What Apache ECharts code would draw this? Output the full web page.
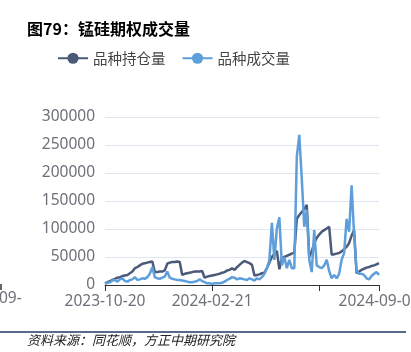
<!DOCTYPE html>
<html><head><meta charset="utf-8">
<script src="https://cdn.jsdelivr.net/npm/echarts@6/dist/echarts.min.js"></script>
<style>html,body{margin:0;padding:0;background:#fff}#c{width:411px;height:352px}</style>
</head><body><div id="c"></div>
<script>
const titleText = '图79：锰硅期权成交量';
const sourceText = '资料来源：同花顺，方正中期研究院';
const seriesNames = ['品种持仓量', '品种成交量'];
const yTicks = [0, 50000, 100000, 150000, 200000, 250000, 300000];
const categories = [
'2023-10-20','2023-10-23','2023-10-26','2023-10-29','2023-11-01','2023-11-04','2023-11-07','2023-11-10','2023-11-12','2023-11-15',
'2023-11-18','2023-11-21','2023-11-24','2023-11-27','2023-11-30','2023-12-03','2023-12-05','2023-12-08','2023-12-11','2023-12-14',
'2023-12-17','2023-12-20','2023-12-23','2023-12-26','2023-12-28','2023-12-31','2024-01-03','2024-01-06','2024-01-09','2024-01-12',
'2024-01-15','2024-01-18','2024-01-20','2024-01-23','2024-01-26','2024-01-29','2024-02-01','2024-02-04','2024-02-07','2024-02-10',
'2024-02-12','2024-02-15','2024-02-18','2024-02-21','2024-02-24','2024-02-27','2024-03-01','2024-03-04','2024-03-07','2024-03-10',
'2024-03-13','2024-03-16','2024-03-19','2024-03-22','2024-03-25','2024-03-28','2024-03-31','2024-04-03','2024-04-06','2024-04-09',
'2024-04-11','2024-04-14','2024-04-17','2024-04-20','2024-04-23','2024-04-26','2024-04-29','2024-05-02','2024-05-05','2024-05-08',
'2024-05-11','2024-05-14','2024-05-17','2024-05-20','2024-05-23','2024-05-26','2024-05-29','2024-06-01','2024-06-04','2024-06-07',
'2024-06-09','2024-06-12','2024-06-15','2024-06-18','2024-06-21','2024-06-24','2024-06-27','2024-06-30','2024-07-03','2024-07-06',
'2024-07-09','2024-07-12','2024-07-15','2024-07-18','2024-07-21','2024-07-24','2024-07-27','2024-07-30','2024-08-02','2024-08-05',
'2024-08-07','2024-08-10','2024-08-13','2024-08-16','2024-08-19','2024-08-22','2024-08-25','2024-08-28','2024-08-31','2024-09-03',
'2024-09-06'];
const openInterest = [
3000,5000,7000,9000,11000,13000,14000,16000,17000,18000,
21000,24000,30000,32000,35000,38000,39000,40000,41000,42000,
23000,23000,24000,24000,26000,38000,40000,41000,41000,42000,
41000,18000,20000,21000,22000,23000,24000,24000,24000,25000,
13000,15000,16000,17000,18000,19000,20000,22000,23000,26000,
27000,30000,27000,32000,36000,40000,43000,41000,39000,36000,
17000,18000,19000,21000,22000,30000,40000,50000,56000,61000,
28000,48000,50000,52000,54000,56000,58000,118000,125000,130000,
136000,143000,50000,60000,75000,84000,90000,95000,98000,101000,
104000,54000,55000,56000,57000,60000,64000,68000,75000,88000,
98000,21000,24000,27000,29000,31000,32000,34000,35000,37000,
39000];
const volume = [
2000,4000,5000,8000,9000,6000,10000,12000,7000,6000,
9000,10000,14000,9000,10000,12000,11000,14000,20000,32000,
14000,12000,11000,13000,15000,24000,13000,11000,10000,9000,
9000,8000,7000,6000,5000,5000,6000,7000,10000,7000,
5000,3000,3000,2000,3000,3000,3000,4000,6000,9000,
11000,14000,13000,10000,12000,11000,10000,9000,12000,10000,
8000,12000,10000,14000,20000,30000,45000,111000,45000,101000,
121000,35000,50000,30000,45000,30000,30000,229000,268000,190000,
104000,134000,45000,23000,98000,35000,32000,30000,35000,45000,
25000,12000,18000,12000,20000,45000,57000,118000,95000,178000,
90000,25000,20000,20000,18000,12000,10000,16000,20000,23000,
18000];
const tickStep = 43;
const colors = ['#4a5a78', '#5e9fdb'];
const lastIdx = categories.length - 1;

const chart = echarts.init(document.getElementById('c'));
chart.setOption({
  animation: false,
  color: colors,
  legend: {
    left: 52, top: 46, itemWidth: 30, itemHeight: 14, itemGap: 16,
    textStyle: { fontSize: 14.5, color: '#444', fontFamily: 'Noto Sans CJK SC' },
    data: seriesNames
  },
  grid: { left: 105, right: 32, top: 117, bottom: 67, containLabel: false, outerBoundsMode: 'none' },
  xAxis: {
    type: 'category', data: categories, boundaryGap: false,
    axisLine: { lineStyle: { color: '#333', width: 1 } },
    axisTick: { interval: (i) => i % tickStep === 0 || i === lastIdx, length: 6, lineStyle: { color: '#333' } },
    axisLabel: { interval: (i) => i === 0 || i === tickStep || i === lastIdx, fontSize: 15.5, color: '#6E7079', margin: 9, fontFamily: 'Noto Sans' }
  },
  yAxis: {
    type: 'value', min: yTicks[0], max: yTicks[yTicks.length - 1], interval: yTicks[1] - yTicks[0],
    axisLabel: { fontSize: 15.5, color: '#6E7079', margin: 10, fontFamily: 'Noto Sans', formatter: (v) => String(v) },
    splitLine: { lineStyle: { color: '#E0E6F1' } }
  },
  series: [
    { name: seriesNames[0], type: 'line', data: openInterest, showSymbol: false, symbol: 'circle', symbolSize: 11, lineStyle: { width: 2.5 } },
    { name: seriesNames[1], type: 'line', data: volume, showSymbol: false, symbol: 'circle', symbolSize: 11, lineStyle: { width: 2.5 } }
  ],
  graphic: [
    { type: 'text', left: 27, top: 21, style: { text: titleText, fontSize: 16, fontWeight: 'bold', fill: '#000', fontFamily: 'Noto Sans CJK SC' } },
    { type: 'line', shape: { x1: 0, y1: 332, x2: 406, y2: 332 }, style: { stroke: '#1f3b66', lineWidth: 1.5 } },
    { type: 'text', left: 27, top: 334, style: { text: sourceText, fontSize: 13, fontStyle: 'italic', fill: '#222', fontFamily: 'Noto Sans CJK SC' } },
    { type: 'text', left: -1, top: 291, style: { text: '09-', fontSize: 15.5, fill: '#6E7079', fontFamily: 'Noto Sans' } },
    { type: 'line', shape: { x1: 1, y1: 284, x2: 1, y2: 290 }, style: { stroke: '#333', lineWidth: 1.5 } }
  ]
});
</script>
</body></html>
